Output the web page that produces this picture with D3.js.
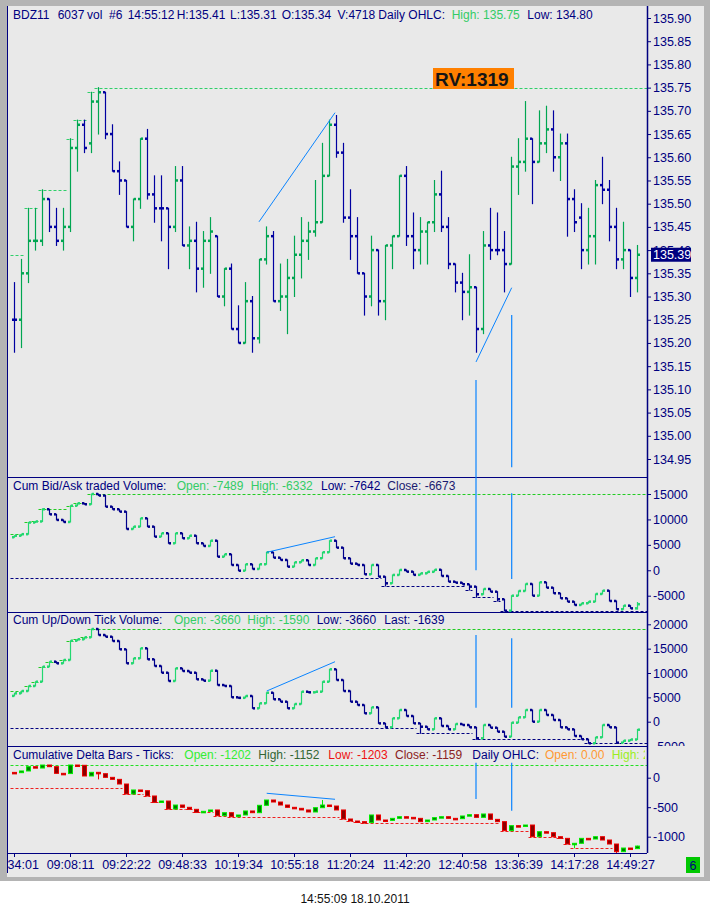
<!DOCTYPE html>
<html>
<head>
<meta charset="utf-8">
<script src="https://cdn.jsdelivr.net/npm/d3@7/dist/d3.min.js"></script>
<style>
  body { margin: 0; background: #fff; }
  svg text { font-family: "Liberation Sans", Arial, sans-serif; font-size: 12px; }
</style>
</head>
<body>
<svg id="chart" width="710" height="916"></svg>
<script>
// ---- data ----
const timeLabels = ['08:34:01', '09:08:11', '09:22:22', '09:48:33', '10:19:34', '10:55:18',
  '11:20:24', '11:42:20', '12:40:58', '13:36:39', '14:17:28', '14:49:27'];

const priceOpen = [135.25, 135.25, 135.35, 135.42, 135.42, 135.51, 135.45, 135.42, 135.45, 135.62,
  135.67, 135.63, 135.72, 135.74, 135.65, 135.57, 135.55, 135.45, 135.51, 135.64,
  135.52, 135.49, 135.49, 135.45, 135.55, 135.41, 135.42, 135.36, 135.42, 135.43,
  135.30, 135.36, 135.23, 135.20, 135.29, 135.21, 135.38, 135.43, 135.29, 135.30,
  135.34, 135.39, 135.42, 135.44, 135.46, 135.56, 135.67, 135.61, 135.47, 135.43,
  135.35, 135.30, 135.40, 135.29, 135.41, 135.43, 135.56, 135.43, 135.40, 135.44,
  135.46, 135.52, 135.45, 135.37, 135.33, 135.31, 135.32, 135.23, 135.41, 135.40,
  135.40, 135.37, 135.58, 135.59, 135.64, 135.59, 135.63, 135.66, 135.60, 135.63,
  135.51, 135.47, 135.40, 135.43, 135.54, 135.53, 135.45, 135.38, 135.40, 135.34];
const priceHigh = [135.33, 135.38, 135.49, 135.49, 135.53, 135.51, 135.49, 135.49, 135.64, 135.68,
  135.68, 135.74, 135.75, 135.74, 135.67, 135.59, 135.55, 135.51, 135.64, 135.66,
  135.56, 135.56, 135.49, 135.58, 135.58, 135.45, 135.46, 135.44, 135.47, 135.43,
  135.36, 135.37, 135.28, 135.33, 135.30, 135.38, 135.45, 135.44, 135.37, 135.38,
  135.43, 135.47, 135.46, 135.55, 135.63, 135.68, 135.69, 135.63, 135.53, 135.47,
  135.35, 135.43, 135.40, 135.41, 135.43, 135.56, 135.58, 135.48, 135.47, 135.46,
  135.55, 135.57, 135.47, 135.37, 135.35, 135.39, 135.32, 135.44, 135.49, 135.48,
  135.44, 135.60, 135.64, 135.72, 135.64, 135.70, 135.71, 135.70, 135.65, 135.65,
  135.53, 135.50, 135.49, 135.55, 135.60, 135.55, 135.49, 135.46, 135.40, 135.41];
const priceLow = [135.18, 135.19, 135.33, 135.40, 135.41, 135.44, 135.41, 135.40, 135.44, 135.57,
  135.61, 135.61, 135.65, 135.64, 135.57, 135.52, 135.45, 135.42, 135.49, 135.51,
  135.46, 135.42, 135.36, 135.44, 135.41, 135.36, 135.31, 135.32, 135.35, 135.30,
  135.28, 135.23, 135.20, 135.20, 135.18, 135.20, 135.37, 135.29, 135.27, 135.22,
  135.30, 135.34, 135.38, 135.43, 135.46, 135.56, 135.60, 135.46, 135.38, 135.35,
  135.26, 135.28, 135.26, 135.25, 135.36, 135.43, 135.41, 135.36, 135.37, 135.37,
  135.44, 135.44, 135.36, 135.31, 135.25, 135.26, 135.18, 135.22, 135.38, 135.39,
  135.31, 135.37, 135.52, 135.57, 135.50, 135.59, 135.61, 135.57, 135.55, 135.43,
  135.44, 135.36, 135.37, 135.37, 135.50, 135.42, 135.36, 135.36, 135.30, 135.31];
const priceClose = [135.25, 135.35, 135.42, 135.42, 135.51, 135.45, 135.42, 135.45, 135.62, 135.67,
  135.62, 135.72, 135.74, 135.65, 135.57, 135.55, 135.45, 135.51, 135.64, 135.52,
  135.49, 135.49, 135.45, 135.55, 135.41, 135.42, 135.36, 135.42, 135.44, 135.30,
  135.36, 135.23, 135.20, 135.29, 135.21, 135.38, 135.43, 135.29, 135.30, 135.34,
  135.39, 135.42, 135.44, 135.46, 135.56, 135.67, 135.61, 135.47, 135.43, 135.35,
  135.30, 135.40, 135.29, 135.41, 135.43, 135.56, 135.43, 135.40, 135.44, 135.46,
  135.52, 135.45, 135.37, 135.33, 135.31, 135.32, 135.23, 135.41, 135.40, 135.40,
  135.37, 135.58, 135.59, 135.64, 135.59, 135.63, 135.66, 135.60, 135.63, 135.51,
  135.46, 135.40, 135.43, 135.54, 135.53, 135.45, 135.38, 135.40, 135.34, 135.39];
const priceDayStart = [135.39, 134.80]; // running high / low before first visible bar
const priceTicks = [135.90, 135.85, 135.80, 135.75, 135.70, 135.65, 135.60, 135.55, 135.50, 135.45,
  135.40, 135.35, 135.30, 135.25, 135.20, 135.15, 135.10, 135.05, 135.00, 134.95];
const priceTrends = [[35, 135.461, 45.86, 135.696], [66, 135.159, 71.1, 135.319]];
const priceVerticals = [[66, 135.12, 134.91], [71.1, 135.26, 134.932]];

const bidAskClose = [6800, 7100, 9400, 9600, 12000, 11000, 9900, 9500, 12700, 13170,
  12980, 15000, 14700, 12510, 12000, 11530, 8120, 8580, 10220, 8580,
  6610, 7280, 5310, 7280, 6290, 6800, 5310, 4780, 5820, 2670,
  3150, 1040, -80, 1180, 260, 1180, 3540, 2480, 2030, 710,
  1570, 1970, 1040, 2360, 3540, 5820, 4450, 2360, 1300, 1040,
  -790, 1040, -1260, -2560, -920, 60, -270, -900, -600, -300,
  100, -1120, -2240, -2440, -2750, -3220, -4720, -3680, -4210, -5700,
  -7950, -5000, -4070, -2690, -5000, -2360, -3420, -4520, -5510, -6170,
  -6820, -6490, -6170, -4660, -4010, -6040, -7670, -6960, -7489, -6673];
const bidAskFirstOpen = 6500;
const bidAskHighX = { 4: 12100, 89: -6332 };
const bidAskLowX = { 53: -3090, 65: -3870, 66: -5310, 69: -6040, 70: -8000, 89: -7642 };
const bidAskDayStart = [7100, -1570];
const bidAskTicks = [15000, 10000, 5000, 0, -5000];
const bidAskTrends = [[36.1, 3540, 45.86, 6608]];
const bidAskVerticals = [[66, 18350, 0], [71.1, 15140, -1710]];

const upDownClose = [5830, 6300, 7330, 8210, 11290, 12320, 11990, 12670, 16630, 16920,
  17330, 19030, 17800, 17450, 16570, 14860, 11990, 13020, 15070, 12810,
  11440, 10060, 8360, 10960, 10410, 10060, 8700, 8420, 10470, 7530,
  7330, 5010, 4900, 5280, 2750, 3780, 5950, 4600, 4110, 2750,
  3630, 6160, 6030, 6160, 8210, 10760, 8560, 6300, 4110, 3430,
  1720, 2950, -340, -1160, 700, 2400, 1170, -340, -1030, -1570,
  700, -880, -1570, -470, -680, -1160, -3410, -680, -1230, -2050,
  -3080, -200, 900, 2400, 0, 2400, 1380, 350, -1160, -1570,
  -2940, -3600, -4430, -3210, -680, -1160, -4310, -3900, -3660, -1639];
const upDownFirstOpen = 5300;
const upDownHighX = { 89: -1590 };
const upDownLowX = { 58: -2380, 66: -3610, 82: -4430, 89: -3660 };
const upDownDayStart = [6300, -1230];
const upDownTicks = [20000, 15000, 10000, 5000, 0, -5000];
const upDownTrends = [[36.1, 6300, 45.86, 12318]];
const upDownVerticals = [[66, 17800, 2870], [71.1, 17120, 2870]];

const deltaClose = [85, 114, 187, 164, 215, 187, 74, 70, 215, 210,
  29, 91, 68, 6, -28, -107, -276, -208, -220, -310,
  -418, -395, -531, -463, -502, -536, -587, -570, -547, -644,
  -593, -661, -632, -564, -593, -468, -378, -412, -463, -502,
  -519, -547, -581, -508, -463, -480, -547, -700, -734, -745,
  -762, -632, -717, -723, -689, -661, -672, -689, -745, -717,
  -677, -661, -689, -694, -649, -627, -672, -615, -706, -745,
  -898, -813, -819, -802, -1000, -915, -932, -1000, -1028, -1124,
  -1112, -1028, -1039, -1000, -1056, -1124, -1254, -1192, -1202, -1159];
const deltaFirstOpen = 90;
const deltaHighX = { 44: -378, 89: -1152 };
const deltaLowX = { 12: -28, 80: -1197, 86: -1282, 89: -1203 };
const deltaDayStart = [215, -180];
const deltaTicks = [0, -500, -1000];
const deltaTrends = [[36.1, -264, 45.86, -366]];
const deltaVerticals = [[66, 254, -361], [71.1, 254, -559]];

const priceHeader = ['BDZ11', '6037', 'vol', '#6', '14:55:12', 'H:135.41', 'L:135.31', 'O:135.34',
  'V:4718', 'Daily OHLC:', 'High: 135.75', 'Low: 134.80'];
const bidAskHeader = ['Cum Bid/Ask traded Volume:', 'Open: -7489', 'High: -6332', 'Low: -7642', 'Close: -6673'];
const upDownHeader = ['Cum Up/Down Tick Volume:', 'Open: -3660', 'High: -1590', 'Low: -3660', 'Last: -1639'];
const deltaHeader = ['Cumulative Delta Bars - Ticks:', 'Open: -1202', 'High: -1152', 'Low: -1203',
  'Close: -1159', 'Daily OHLC:', 'Open: 0.00', 'High: 215.00'];

// ---- layout ----
const NAVY = '#000080';
const TREND = '#0a84ff';
const PLOT_L = 8, PLOT_R = 647;

const svg = d3.select('#chart');
const defs = svg.append('defs');

svg.append('rect').attr('width', 710).attr('height', 916).attr('fill', '#fff');
svg.append('rect').attr('width', 710).attr('height', 881).attr('fill', '#b4b4b4');
svg.append('rect').attr('x', 7).attr('y', 6).attr('width', 697).attr('height', 871).attr('fill', '#e9e9e9');
svg.append('line').attr('x1', 7.5).attr('x2', 7.5).attr('y1', 6).attr('y2', 873)
  .attr('stroke', NAVY).attr('stroke-width', 1);

const x = d3.scaleLinear().domain([0, 89]).range([14, 637]);

const yPrice = d3.scaleLinear().domain([134.95, 135.90]).range([459, 18]);
const yBidAsk = d3.scaleLinear().domain([-5000, 15000]).range([595.7, 494]);
const yUpDown = d3.scaleLinear().domain([0, 20000]).range([721.7, 624.3]);
const yDelta = d3.scaleLinear().domain([-1000, 0]).range([836.7, 777.7]);

function ohlcRows(open, high, low, close) {
  let prevUp = false;
  return close.map((c, i) => {
    const o = open[i];
    const up = c > o ? true : c < o ? false : prevUp;
    prevUp = up;
    return { i, o, h: high[i], l: low[i], c, up };
  });
}

function cumRows(close, firstOpen, highX, lowX) {
  const open = close.map((c, i) => i ? close[i - 1] : firstOpen);
  const high = close.map((c, i) => Math.max(open[i], c, highX[i] ?? -Infinity));
  const low = close.map((c, i) => Math.min(open[i], c, lowX[i] ?? Infinity));
  return ohlcRows(open, high, low, close);
}

// running day high / low drawn as steps between bars
function runningSegments(vals, start, better) {
  const segs = [];
  let level = start, from = -0.5;
  vals.forEach((v, i) => {
    if (better(v, level)) {
      segs.push({ from, to: i - 0.5, v: level });
      level = v;
      from = i - 0.5;
    }
  });
  segs.push({ from, to: null, v: level });
  return segs;
}

const panels = [
  { id: 'price', top: 7, bottom: 477, y: yPrice, ticks: priceTicks, fmt: d3.format('.2f'),
    rows: ohlcRows(priceOpen, priceHigh, priceLow, priceClose), day: priceDayStart,
    up: '#00a651', down: '#0000a0', hiCol: '#2fd06a', loCol: NAVY,
    trends: priceTrends, verticals: priceVerticals },
  { id: 'bidask', top: 477, bottom: 612, y: yBidAsk, ticks: bidAskTicks, fmt: d => String(d),
    rows: cumRows(bidAskClose, bidAskFirstOpen, bidAskHighX, bidAskLowX), day: bidAskDayStart,
    up: '#22d870', down: '#00008b', hiCol: '#22cc22', loCol: NAVY,
    trends: bidAskTrends, verticals: bidAskVerticals },
  { id: 'updown', top: 612, bottom: 746, y: yUpDown, ticks: upDownTicks, fmt: d => String(d),
    rows: cumRows(upDownClose, upDownFirstOpen, upDownHighX, upDownLowX), day: upDownDayStart,
    up: '#22d870', down: '#00008b', hiCol: '#22cc22', loCol: NAVY,
    trends: upDownTrends, verticals: upDownVerticals },
  { id: 'delta', top: 746, bottom: 853, y: yDelta, ticks: deltaTicks, fmt: d => String(d),
    rows: cumRows(deltaClose, deltaFirstOpen, deltaHighX, deltaLowX), day: deltaDayStart,
    up: '#00ee00', down: '#ee0000', upFill: '#007a00', downFill: '#8a0000', candles: true,
    hiCol: '#22e022', loCol: '#ee2020', trends: deltaTrends, verticals: deltaVerticals }
];

panels.forEach(p => {
  defs.append('clipPath').attr('id', 'clip-' + p.id).append('rect')
    .attr('x', PLOT_L).attr('y', p.top).attr('width', PLOT_R - PLOT_L).attr('height', p.bottom - p.top);
  defs.append('clipPath').attr('id', 'axis-' + p.id).append('rect')
    .attr('x', -1).attr('y', p.top).attr('width', 60).attr('height', p.bottom - p.top);

  const g = svg.append('g').attr('clip-path', `url(#clip-${p.id})`);
  const y = p.y;

  // day high / low dashed steps
  const highs = runningSegments(p.rows.map(d => d.h), p.day[0], (a, b) => a > b);
  const lows = runningSegments(p.rows.map(d => d.l), p.day[1], (a, b) => a < b);
  [[highs, p.hiCol], [lows, p.loCol]].forEach(([segs, col]) => {
    g.append('g').selectAll('line').data(segs).join('line')
      .attr('x1', d => x(d.from)).attr('x2', d => d.to === null ? PLOT_R : x(d.to))
      .attr('y1', d => Math.round(y(d.v)) + 0.5).attr('y2', d => Math.round(y(d.v)) + 0.5)
      .attr('stroke', col).attr('stroke-width', 1).attr('stroke-dasharray', '3,2');
  });

  const col = d => d.up ? p.up : p.down;
  const bx = d => x(d.i) + 0.5;

  if (p.candles) {
    g.append('g').selectAll('line').data(p.rows).join('line')
      .attr('x1', bx).attr('x2', bx)
      .attr('y1', d => y(d.h)).attr('y2', d => Math.max(y(d.l), y(d.h) + 1))
      .attr('stroke', col).attr('stroke-width', 1);
    g.append('g').selectAll('rect').data(p.rows).join('rect')
      .attr('x', d => x(d.i) - 1.5).attr('width', 4)
      .attr('y', d => Math.min(y(d.o), y(d.c)))
      .attr('height', d => Math.max(1.5, Math.abs(y(d.o) - y(d.c))))
      .attr('fill', d => d.up ? p.upFill : p.downFill)
      .attr('stroke', col).attr('stroke-width', 1);
  } else {
    g.append('g').selectAll('line').data(p.rows).join('line')
      .attr('x1', bx).attr('x2', bx)
      .attr('y1', d => y(d.h) - 0.5).attr('y2', d => Math.max(y(d.l), y(d.h) + 1) + 0.5)
      .attr('stroke', col).attr('stroke-width', 1.2);
    g.append('g').selectAll('rect').data(p.rows).join('rect')
      .attr('x', d => x(d.i) - 2).attr('y', d => y(d.o) - 1.25)
      .attr('width', 2.2).attr('height', 2.5).attr('fill', col);
    g.append('g').selectAll('rect').data(p.rows).join('rect')
      .attr('x', d => x(d.i) + 0.8).attr('y', d => y(d.c) - 1.25)
      .attr('width', 2.2).attr('height', 2.5).attr('fill', col);
  }

  // drawn annotations
  g.append('g').selectAll('line').data(p.trends).join('line')
    .attr('x1', d => x(d[0])).attr('y1', d => y(d[1]))
    .attr('x2', d => x(d[2])).attr('y2', d => y(d[3]))
    .attr('stroke', TREND).attr('stroke-width', 1);
  g.append('g').selectAll('line').data(p.verticals).join('line')
    .attr('x1', d => x(d[0])).attr('x2', d => x(d[0]))
    .attr('y1', d => y(d[1])).attr('y2', d => y(d[2]))
    .attr('stroke', TREND).attr('stroke-width', 1.2);

  // right value axis
  const ax = svg.append('g').attr('transform', `translate(${PLOT_R},0)`)
    .attr('clip-path', `url(#axis-${p.id})`)
    .call(d3.axisRight(y).tickValues(p.ticks).tickSize(4).tickPadding(2).tickFormat(p.fmt));
  ax.select('.domain').remove();
  ax.selectAll('line').attr('stroke', NAVY);
  ax.selectAll('text').attr('fill', NAVY).style('font-size', '12.5px')
    .style('font-family', '"Liberation Sans", Arial, sans-serif');

  // panel separator
  svg.append('line').attr('x1', 7).attr('x2', PLOT_R).attr('y1', p.bottom + 0.5).attr('y2', p.bottom + 0.5)
    .attr('stroke', NAVY).attr('stroke-width', 1.2);
});

svg.append('line').attr('x1', PLOT_R + 0.5).attr('x2', PLOT_R + 0.5).attr('y1', 6).attr('y2', 853)
  .attr('stroke', NAVY).attr('stroke-width', 1.5);

// last price marker
const lastPrice = priceClose[priceClose.length - 1];
svg.append('rect').attr('x', 651).attr('y', yPrice(lastPrice) - 7).attr('width', 40).attr('height', 14)
  .attr('fill', NAVY);
svg.append('text').attr('x', 653).attr('y', yPrice(lastPrice) + 4.5).attr('fill', '#fff')
  .style('font-size', '12.5px').text(d3.format('.2f')(lastPrice));

// RV label
svg.append('rect').attr('x', 433).attr('y', 68).attr('width', 81).attr('height', 21).attr('fill', '#ff8000');
svg.append('text').attr('x', 435).attr('y', 86).attr('fill', '#151515')
  .style('font-size', '19px').style('font-weight', 'bold').text('RV:1319');

// headers
function header(texts, xs, colors, yBase, clip) {
  const g = svg.append('g');
  if (clip) {
    defs.append('clipPath').attr('id', clip).append('rect')
      .attr('x', 8).attr('y', yBase - 14).attr('width', PLOT_R - 10).attr('height', 20);
    g.attr('clip-path', `url(#${clip})`);
  }
  g.selectAll('text').data(texts).join('text')
    .attr('x', (d, i) => xs[i]).attr('y', yBase)
    .attr('fill', (d, i) => colors[i] || NAVY).text(d => d);
}
const G = '#33cc66';
header(priceHeader, [13, 57.7, 87, 109, 127.7, 176.7, 230, 281.7, 337.5, 378.3, 451.7, 527.3],
  [NAVY, NAVY, NAVY, NAVY, NAVY, NAVY, NAVY, NAVY, NAVY, NAVY, G, NAVY], 19);
header(bidAskHeader, [13, 176.7, 250.7, 321, 387.3], [NAVY, G, G, NAVY, '#1a1a70'], 490);
header(upDownHeader, [13, 174, 247.3, 316.7, 384.3], [NAVY, G, G, NAVY, NAVY], 624);
header(deltaHeader, [13, 184.3, 258.3, 328.3, 395, 472.3, 545, 611.7],
  [NAVY, '#33ee33', '#336633', '#ee1111', '#8b2222', NAVY, '#ff9933', '#99ee22'], 759, 'clip-dh');

// time axis (clip rect is in the axis group's own coordinates)
defs.append('clipPath').attr('id', 'clip-time').append('rect')
  .attr('x', 8).attr('y', -3).attr('width', 700).attr('height', 24);
const tax = svg.append('g').attr('transform', 'translate(0,853)').attr('clip-path', 'url(#clip-time)')
  .call(d3.axisBottom(x).tickValues(timeLabels.map((t, i) => i * 8)).tickSize(4).tickPadding(3)
    .tickFormat(v => timeLabels[v / 8]));
tax.select('.domain').remove();
tax.selectAll('line').attr('stroke', NAVY);
tax.selectAll('text').attr('fill', NAVY).style('font-size', '12.5px')
  .style('font-family', '"Liberation Sans", Arial, sans-serif');

// page marker and timestamp
svg.append('rect').attr('x', 686).attr('y', 857).attr('width', 14).attr('height', 16).attr('fill', '#00c800');
svg.append('text').attr('x', 693).attr('y', 870).attr('text-anchor', 'middle').attr('fill', NAVY)
  .style('font-size', '12.5px').text('6');
svg.append('text').attr('x', 355).attr('y', 903).attr('text-anchor', 'middle').attr('fill', '#111')
  .style('font-size', '12px').text('14:55:09 18.10.2011');
</script>
</body>
</html>
